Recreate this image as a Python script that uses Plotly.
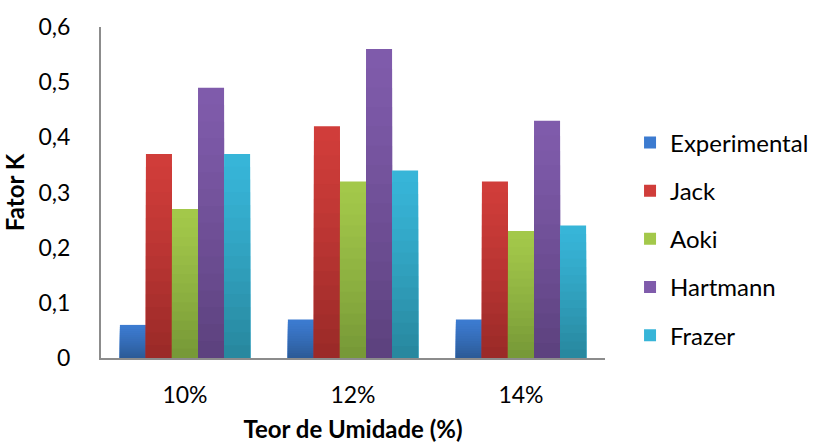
import plotly.graph_objects as go

# Moisture content categories and K factor per method
categories = ["10%", "12%", "14%"]
experimental = [0.06, 0.07, 0.07]
jack = [0.37, 0.42, 0.32]
aoki = [0.27, 0.32, 0.23]
hartmann = [0.49, 0.56, 0.43]
frazer = [0.37, 0.34, 0.24]

y_ticks = [0, 0.1, 0.2, 0.3, 0.4, 0.5, 0.6]
y_tick_text = ["0", "0,1", "0,2", "0,3", "0,4", "0,5", "0,6"]

series = [
    ("Experimental", experimental, "#3c7bd0", "#2c5b98"),
    ("Jack", jack, "#d03d3a", "#9b2a28"),
    ("Aoki", aoki, "#a3c84a", "#779937"),
    ("Hartmann", hartmann, "#7f5bab", "#5d427f"),
    ("Frazer", frazer, "#37b5d8", "#28889f"),
]

FONT = "Lato"
STEPS = 16


def hex_to_rgb(h):
    h = h.lstrip("#")
    return tuple(int(h[i:i + 2], 16) for i in (0, 2, 4))


def mix(c1, c2, t):
    a, b = hex_to_rgb(c1), hex_to_rgb(c2)
    r = [round(a[i] + (b[i] - a[i]) * t) for i in range(3)]
    return "rgb(%d,%d,%d)" % tuple(r)


fig = go.Figure()
for name, values, top, bottom in series:
    # vertical shading: successively shorter, darker bars over the full bar
    for k in range(STEPS):
        frac = 1 - k / STEPS
        t = (k / (STEPS - 1)) ** 1.2
        fig.add_trace(go.Bar(
            x=categories,
            y=[v * frac for v in values],
            name=name,
            offsetgroup=name,
            legendgroup=name,
            showlegend=(k == 0),
            marker=dict(color=mix(top, bottom, t), line=dict(width=0)),
            hoverinfo="skip" if k else None,
        ))

fig.update_layout(
    width=814,
    height=443,
    margin=dict(l=101, r=209, t=27, b=85, autoexpand=False),
    paper_bgcolor="white",
    plot_bgcolor="white",
    barmode="group",
    bargap=0.225,
    bargroupgap=0,
    font=dict(family=FONT, size=23, color="#000000"),
    legend=dict(
        xref="container", x=0.774, xanchor="left",
        y=0.36, yanchor="middle",
        font=dict(family=FONT, size=24, color="#000000"),
        tracegroupgap=14,
        traceorder="grouped",
        itemwidth=30,
    ),
    xaxis=dict(
        automargin=False,
        showline=True, linecolor="#8c8c8c", linewidth=2,
        ticks="", showgrid=False,
        tickfont=dict(family=FONT, size=23),
        ticklabelstandoff=15,
        title=dict(text="<b>Teor de Umidade (%)</b>",
                   font=dict(family=FONT, size=24), standoff=22),
    ),
    yaxis=dict(
        automargin=False,
        range=[0, 0.6],
        tickvals=y_ticks, ticktext=y_tick_text,
        showline=True, linecolor="#8c8c8c", linewidth=2,
        ticks="", showgrid=False, zeroline=False,
        tickfont=dict(family=FONT, size=23),
        ticklabelstandoff=24,
        title=dict(text="<b>Fator K</b>",
                   font=dict(family=FONT, size=24), standoff=10),
    ),
)

fig.write_html("out.html")
